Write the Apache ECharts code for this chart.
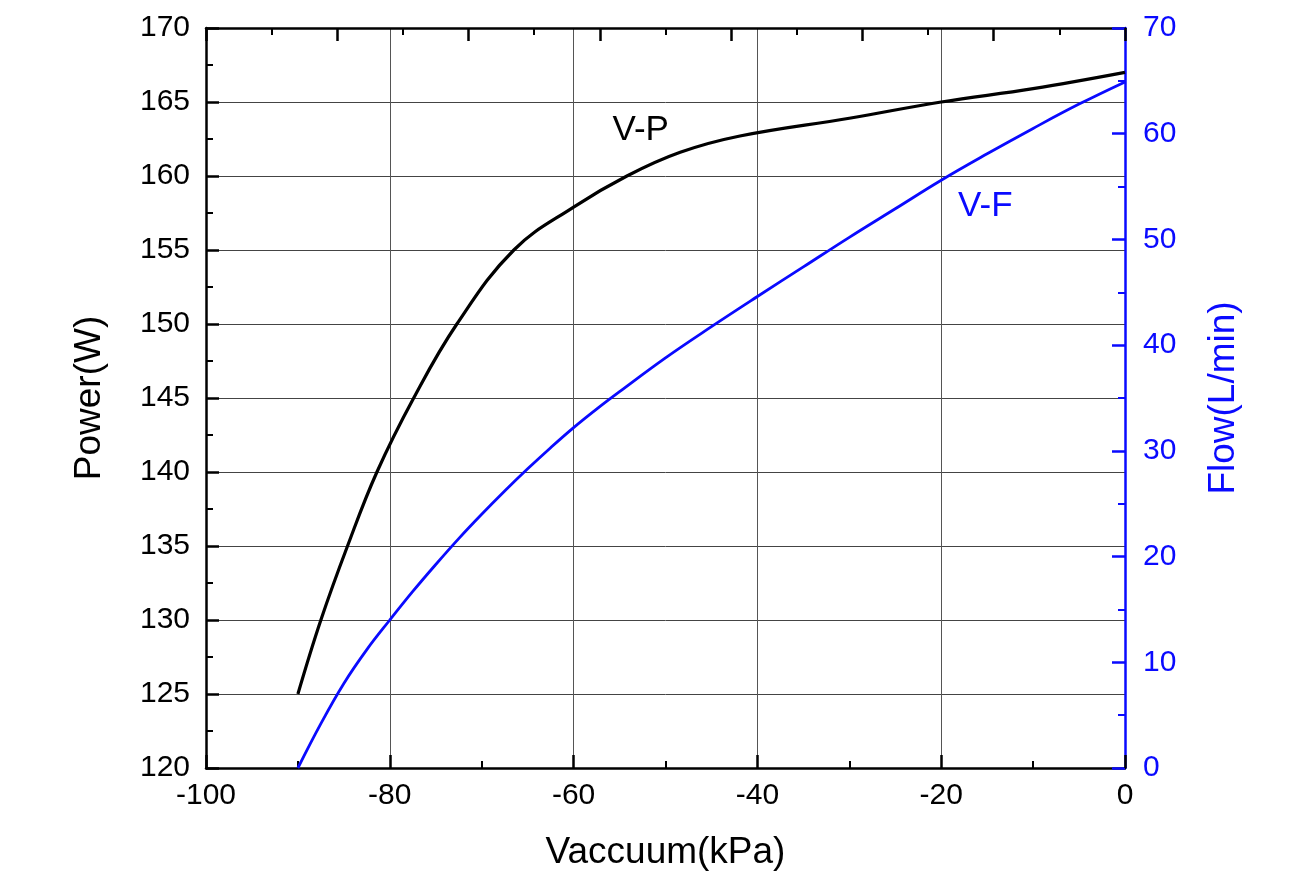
<!DOCTYPE html>
<html>
<head>
<meta charset="utf-8">
<script src="https://cdn.jsdelivr.net/npm/echarts@6/dist/echarts.min.js"></script>
<style>html,body{margin:0;padding:0;background:#fff}#c{width:1305px;height:891px}</style>
</head>
<body>
<div id="c"></div>
<script>
const vacuum   = [-90, -87.5, -84.6, -81.4, -77.4, -72.7, -66.5, -60, -54.2, -48.4, -41.9, -30, -20, -10, 0];
const powerW   = [125, 130, 135, 140, 145, 150, 155, 157.9, 160, 161.6, 162.7, 163.9, 165.0, 165.9, 167.0];
const vacuumF  = [-90, -87.5, -85, -82.5, -80, -77.5, -75, -72.5, -70, -67.5, -65, -62.5, -60, -57.5, -55, -50, -45, -40, -35, -30, -25, -20, -15, -10, -5, 0];
const flowLmin = [0, 4.2, 8.0, 11.2, 14.0, 16.7, 19.25, 21.7, 24.0, 26.2, 28.3, 30.3, 32.2, 33.95, 35.6, 38.8, 41.75, 44.6, 47.4, 50.2, 52.9, 55.6, 58.1, 60.5, 62.8, 64.9];
const labelVP  = [-52.7, 163.1];
const labelVF  = [-15.2, 53.1];

const FONT = 'Liberation Sans, Arial, sans-serif';
const BLUE = '#0a0aff';

const chart = echarts.init(document.getElementById('c'), null, {renderer: 'canvas'});
chart.setOption({
  backgroundColor: '#fff',
  animation: false,
  grid: {left: 206, right: 180, top: 28, bottom: 123, containLabel: false},
  xAxis: [{
    type: 'value', position: 'bottom', min: -100, max: 0, interval: 20,
    name: 'Vaccuum(kPa)', nameLocation: 'middle', nameGap: 66,
    nameTextStyle: {fontFamily: FONT, fontSize: 37, color: '#000'},
    axisLine: {show: true, onZero: false, lineStyle: {color: '#000', width: 2.5}},
    axisTick: {show: true, inside: true, length: 13, lineStyle: {color: '#000', width: 2.5}},
    minorTick: {show: true, splitNumber: 2, length: 7, lineStyle: {color: '#000', width: 2}},
    axisLabel: {fontFamily: FONT, fontSize: 30, color: '#000', margin: 13},
    splitLine: {show: true, lineStyle: {color: '#555', width: 1}}
  }, {
    type: 'value', position: 'top', min: 0, max: 70, interval: 10,
    axisLine: {show: true, onZero: false, lineStyle: {color: '#000', width: 2.5}},
    axisTick: {show: true, inside: true, length: 13, lineStyle: {color: '#000', width: 2.5}},
    minorTick: {show: true, splitNumber: 2, length: 7, lineStyle: {color: '#000', width: 2}},
    axisLabel: {show: false},
    splitLine: {show: false}
  }],
  yAxis: [{
    type: 'value', position: 'left', min: 120, max: 170, interval: 5,
    name: 'Power(W)', nameLocation: 'middle', nameGap: 98, nameRotate: 90,
    nameTextStyle: {fontFamily: FONT, fontSize: 37, color: '#000'},
    axisLine: {show: true, onZero: false, lineStyle: {color: '#000', width: 2.5}},
    axisTick: {show: true, inside: true, length: 13, lineStyle: {color: '#000', width: 2.5}},
    minorTick: {show: true, splitNumber: 2, length: 7, lineStyle: {color: '#000', width: 2}},
    axisLabel: {fontFamily: FONT, fontSize: 30, color: '#000', margin: 16},
    splitLine: {show: true, lineStyle: {color: '#444', width: 1}}
  }, {
    type: 'value', position: 'right', min: 0, max: 70, interval: 10,
    name: 'Flow(L/min)', nameLocation: 'middle', nameGap: 80, nameRotate: 90,
    nameTextStyle: {fontFamily: FONT, fontSize: 37, color: BLUE},
    axisLine: {show: true, onZero: false, lineStyle: {color: BLUE, width: 2.5}},
    axisTick: {show: true, inside: true, length: 13, lineStyle: {color: BLUE, width: 2.5}},
    minorTick: {show: true, splitNumber: 2, length: 7, lineStyle: {color: BLUE, width: 2}},
    axisLabel: {fontFamily: FONT, fontSize: 30, color: BLUE, margin: 18},
    splitLine: {show: false}
  }],
  series: [{
    name: 'V-P', type: 'line', xAxisIndex: 0, yAxisIndex: 0,
    data: vacuum.map((v, i) => [v, powerW[i]]),
    smooth: 0.4, showSymbol: false, symbol: 'none',
    lineStyle: {color: '#000', width: 3.2},
    z: 5,
    markPoint: {
      symbol: 'circle', symbolSize: 0, silent: true,
      label: {show: true, formatter: 'V-P', fontFamily: FONT, fontSize: 35, color: '#000', position: 'inside'},
      data: [{coord: labelVP}]
    }
  }, {
    name: 'V-F', type: 'line', xAxisIndex: 0, yAxisIndex: 1,
    data: vacuumF.map((v, i) => [v, flowLmin[i]]),
    smooth: 0.4, showSymbol: false, symbol: 'none',
    lineStyle: {color: BLUE, width: 2.8},
    z: 5,
    markPoint: {
      symbol: 'circle', symbolSize: 0, silent: true,
      label: {show: true, formatter: 'V-F', fontFamily: FONT, fontSize: 35, color: BLUE, position: 'inside'},
      data: [{coord: labelVF}]
    }
  }]
});
</script>
</body>
</html>
